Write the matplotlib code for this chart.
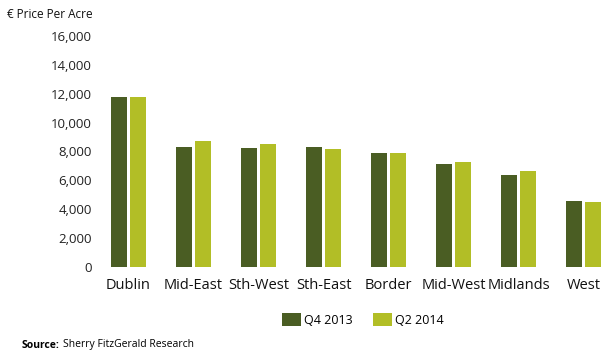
import numpy as np
import matplotlib
matplotlib.use("Agg")
import matplotlib.pyplot as plt
from matplotlib.patches import Patch

plt.rcParams['font.family'] = ['Open Sans', 'DejaVu Sans']

regions = ['Dublin', 'Mid-East', 'Sth-West', 'Sth-East', 'Border', 'Mid-West', 'Midlands', 'West']
q4_2013 = [11750, 8300, 8250, 8300, 7900, 7130, 6370, 4570]
q2_2014 = [11750, 8720, 8520, 8170, 7900, 7270, 6650, 4500]
series_names = ['Q4 2013', 'Q2 2014']
yticks = [0, 2000, 4000, 6000, 8000, 10000, 12000, 14000, 16000]

dark = '#4a5d23'
light = '#b2be26'

fig = plt.figure(figsize=(6.13, 3.61), dpi=100)
ax = fig.add_axes([96 / 613, (361 - 267) / 361, (613 - 96) / 613, (267 - 36) / 361])

x = np.arange(len(regions))
w = 0.246
ax.bar(x - 0.146, q4_2013, width=w, color=dark)
ax.bar(x + 0.146, q2_2014, width=w, color=light)

ax.set_xlim(-0.5, 7.45)
ax.set_ylim(0, 16000)
ax.set_yticks(yticks)
ax.set_yticklabels([f'{v:,}' for v in yticks], fontsize=9.5, color='#222222')
ax.set_xticks(x)
ax.set_xticklabels(regions, fontsize=10.5, color='#111111')
ax.tick_params(axis='both', length=0)
ax.tick_params(axis='y', pad=3)
ax.tick_params(axis='x', pad=8)
for s in ax.spines.values():
    s.set_visible(False)

fig.text(7 / 613, 1 - 14 / 361, '€ Price Per Acre', fontsize=8.5, va='center', ha='left', color='#111111')

handles = [Patch(facecolor=dark), Patch(facecolor=light)]
fig.legend(handles, series_names, loc='center', bbox_to_anchor=(363 / 613, 1 - 320 / 361),
           ncol=2, frameon=False, fontsize=9, handlelength=1.5, handleheight=1.2,
           handletextpad=0.3, columnspacing=1.6)

# source line: bold label followed by plain text
src = fig.text(22 / 613, 1 - 345 / 361, 'Source:', fontsize=7.5, fontweight='bold', va='center', ha='left')
fig.text(0, 0, 'Sherry FitzGerald Research', fontsize=7.5, va='center', ha='left')
fig.texts[-1].remove()
ax.annotate('Sherry FitzGerald Research', xy=(1, 0.5), xycoords=src, xytext=(2.5, 0),
            textcoords='offset points', fontsize=7.5, va='center', ha='left', annotation_clip=False)

fig.savefig('out.png', dpi=100)
